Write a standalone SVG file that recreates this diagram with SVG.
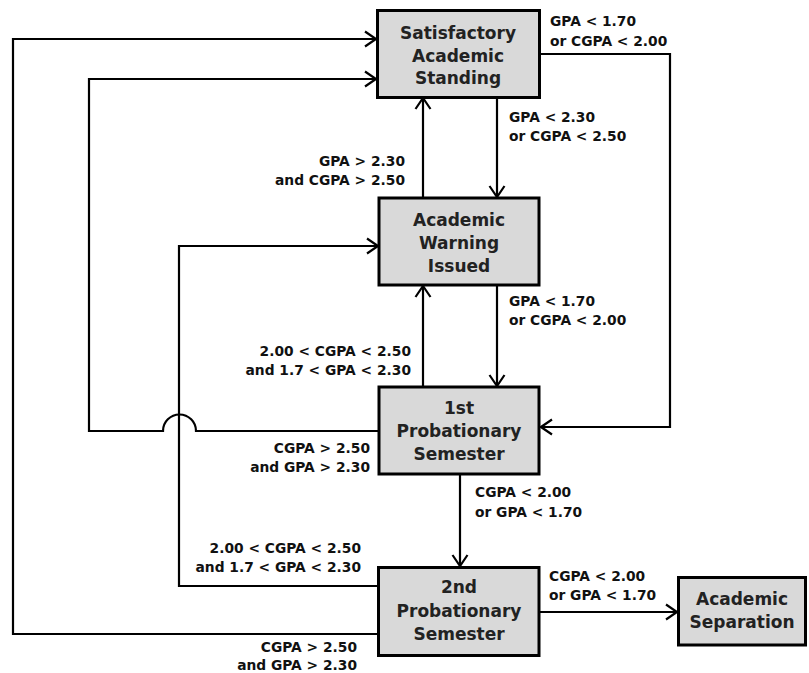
<svg xmlns="http://www.w3.org/2000/svg" width="809" height="673" viewBox="0 0 809 673">
<defs>
<style>
.box{fill:#d9d9d9;stroke:#000;stroke-width:3}
.bt{font-family:"DejaVu Sans","Liberation Sans",sans-serif;font-weight:bold;font-size:17px;fill:#222;text-anchor:middle}
.lb{font-family:"DejaVu Sans","Liberation Sans",sans-serif;font-weight:bold;font-size:13.8px;fill:#111}
.r{text-anchor:end}
.c{fill:none;stroke:#000;stroke-width:2.2}
</style>
<marker id="ah" markerUnits="userSpaceOnUse" markerWidth="14" markerHeight="18" viewBox="0 0 14 18" refX="12.5" refY="9" orient="auto">
<path d="M1.5,1.5 L12.5,9 L1.5,16.5" fill="none" stroke="#000" stroke-width="2.2"/>
</marker>
</defs>
<rect width="809" height="673" fill="#fff"/>
<g id="connectors">
<path class="c" d="M540,54 H670 V427 H541" marker-end="url(#ah)"/>
<path class="c" d="M497,97 V197" marker-end="url(#ah)"/>
<path class="c" d="M423,198 V98" marker-end="url(#ah)"/>
<path class="c" d="M497,285 V386" marker-end="url(#ah)"/>
<path class="c" d="M423,387 V286" marker-end="url(#ah)"/>
<path class="c" d="M379,431 H196 A16.5,16.5 0 0 0 163,431 H89 V79 H376" marker-end="url(#ah)"/>
<path class="c" d="M460,474 V566" marker-end="url(#ah)"/>
<path class="c" d="M378,586 H179 V246 H378" marker-end="url(#ah)"/>
<path class="c" d="M378,634 H13 V39 H376" marker-end="url(#ah)"/>
<path class="c" d="M539,612 H677" marker-end="url(#ah)"/>
</g>
<g id="n-satisfactory">
<rect class="box" x="377.5" y="10.5" width="162" height="87"/>
<text class="bt" x="458" y="39">Satisfactory</text>
<text class="bt" x="458" y="62">Academic</text>
<text class="bt" x="458" y="84">Standing</text>
</g>
<g id="n-warning">
<rect class="box" x="379" y="198" width="160" height="87"/>
<text class="bt" x="459" y="226">Academic</text>
<text class="bt" x="459" y="249">Warning</text>
<text class="bt" x="459" y="272">Issued</text>
</g>
<g id="n-prob1">
<rect class="box" x="379" y="387" width="160" height="87"/>
<text class="bt" x="459" y="414">1st</text>
<text class="bt" x="459" y="437">Probationary</text>
<text class="bt" x="459" y="460">Semester</text>
</g>
<g id="n-prob2">
<rect class="box" x="378.5" y="567.5" width="160.5" height="88"/>
<text class="bt" x="459" y="593">2nd</text>
<text class="bt" x="459" y="617">Probationary</text>
<text class="bt" x="459" y="640">Semester</text>
</g>
<g id="n-separation">
<rect class="box" x="678.5" y="577.5" width="127" height="67.5"/>
<text class="bt" x="742" y="605">Academic</text>
<text class="bt" x="742" y="628">Separation</text>
</g>
<g id="labels">
<text class="lb" x="550" y="26">GPA &lt; 1.70</text>
<text class="lb" x="550" y="46">or CGPA &lt; 2.00</text>
<text class="lb" x="509" y="122">GPA &lt; 2.30</text>
<text class="lb" x="509" y="141">or CGPA &lt; 2.50</text>
<text class="lb r" x="405" y="166">GPA &gt; 2.30</text>
<text class="lb r" x="405" y="185">and CGPA &gt; 2.50</text>
<text class="lb" x="509" y="306">GPA &lt; 1.70</text>
<text class="lb" x="509" y="325">or CGPA &lt; 2.00</text>
<text class="lb r" x="411" y="356">2.00 &lt; CGPA &lt; 2.50</text>
<text class="lb r" x="411" y="375">and 1.7 &lt; GPA &lt; 2.30</text>
<text class="lb r" x="370" y="453">CGPA &gt; 2.50</text>
<text class="lb r" x="370" y="472">and GPA &gt; 2.30</text>
<text class="lb" x="475" y="497">CGPA &lt; 2.00</text>
<text class="lb" x="475" y="517">or GPA &lt; 1.70</text>
<text class="lb r" x="361" y="553">2.00 &lt; CGPA &lt; 2.50</text>
<text class="lb r" x="361" y="572">and 1.7 &lt; GPA &lt; 2.30</text>
<text class="lb" x="549" y="581">CGPA &lt; 2.00</text>
<text class="lb" x="549" y="600">or GPA &lt; 1.70</text>
<text class="lb r" x="357" y="652">CGPA &gt; 2.50</text>
<text class="lb r" x="357" y="670">and GPA &gt; 2.30</text>
</g>
</svg>
